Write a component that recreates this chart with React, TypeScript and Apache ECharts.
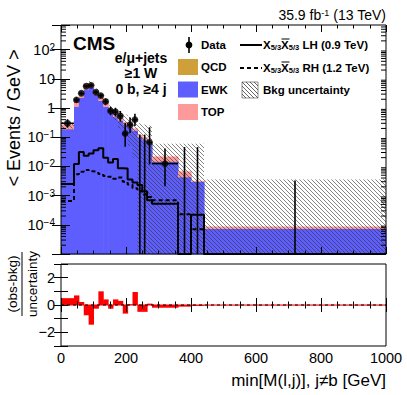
import React, { useEffect, useRef } from "react";
import * as echarts from "echarts";

// ---------- data (events / GeV) ----------
const binEdges = [0, 40, 55, 70, 85, 100, 115, 130, 145, 160, 175, 190, 205, 220, 235, 250, 265, 280, 360, 400, 440, 1000];
const ewkValues = [0.194, 1.12, 2.31, 4.35, 5.11, 2.88, 1.8, 1.12, 0.70, 0.50, 0.385, 0.28, 0.221, 0.17, 0.102, 0.085, 0.057, 0.015, 0.0044, 0.00304, 0.000074];
const qcdValues = [0.001, 0.006, 0.01, 0.02, 0.02, 0.012, 0.008, 0.006, 0.003, 0.002, 0.002, 0.008, 0.001, 0.001, 0.0005, 0.0004, 0.0002, 0.0001, 0.00002, 0.00001, 0.0000003];
const topValues = [0.075, 0.674, 0.98, 2.03, 2.17, 1.108, 0.692, 0.474, 0.197, 0.118, 0.083, 0.042, 0.038, 0.029, 0.0175, 0.0146, 0.0078, 0.0069, 0.00238, 0.00015, 0.000014];
const dataValues = [0.30, 1.9, 3.2, 5.6, 6.0, 3.47, 2.67, 1.67, 0.8, 0.733, 0.533, 0.133, 0.267, 0.4, 0, 0, 0.0667, 0.0125, 0, 0, 0];
const dataErrLow = [0.085, 0.35, 0.46, 0.61, 0.63, 0.48, 0.42, 0.33, 0.23, 0.22, 0.19, 0.086, 0.127, 0.159, 0, 0, 0.055, 0.0104, 0, 0, 0];
const dataErrHigh = [0.115, 0.42, 0.53, 0.68, 0.70, 0.55, 0.49, 0.40, 0.31, 0.29, 0.26, 0.176, 0.211, 0.239, 0.123, 0.123, 0.153, 0.0288, 0.046, 0.046, 0.0033];
const bkgUncLow = [0.2, 1.5, 2.8, 5.5, 6.3, 3.3, 2.0, 1.2, 0.6, 0.38, 0.2, 0.1, 0.05, 0.02, 1e-5, 1e-5, 1e-5, 1e-5, 1e-5, 1e-5, 1e-5];
const bkgUncHigh = [0.34, 2.1, 3.8, 7.3, 8.3, 4.7, 3.0, 2.0, 1.25, 0.95, 0.8, 0.6, 0.5, 0.4, 0.3, 0.27, 0.25, 0.06, 0.06, 0.06, 0.0036];
const signalLH = [0.0025, 0.012, 0.031, 0.023, 0.028, 0.036, 0.042, 0.020, 0.0135, 0.018, 0.0087, 0.0085, 0.0036, 0.0028, 0.0023, 0.0014, 0.0007, 0.00053, 0, 0.00022, 0];
const signalRH = [0.00065, 0.0054, 0.0066, 0.0076, 0.0068, 0.0065, 0.0055, 0.0047, 0.0044, 0.0038, 0.0042, 0.0030, 0.0024, 0.0018, 0.0014, 0.0011, 0.0009, 0.0007, 0.00023, 0.00007, 0];
const pullValues = [0.5, 0.7, 0.22, -0.75, -1.44, -0.27, 1.0, 0.41, -0.27, 0.41, 0.3, -0.63, 0.05, 0.95, -0.5, -0.5, 0.1, -0.2, -0.12, -0.06, -0.02];
const xTickLabels = ["0", "200", "400", "600", "800", "1000"];
const yLogMin = 1e-5;
const yLogMax = 700;

const FONT = "'Liberation Sans', Arial, Helvetica, sans-serif";
const C_EWK = "#5e5eff";
const C_TOP = "#ff9a9a";
const C_QCD = "#cf9f3a";

const cl = (v: number) => Math.min(Math.max(v, yLogMin), yLogMax);

function hatchLines(x0: number, y0: number, x1: number, y1: number, s: number, color: string, w: number) {
  const out: any[] = [];
  const cStart = Math.ceil((x0 - y1) / s) * s;
  for (let c = cStart; c <= x1 - y0; c += s) {
    const xa = Math.max(x0, y0 + c);
    const xb = Math.min(x1, y1 + c);
    if (xb > xa) {
      out.push({ type: "line", shape: { x1: xa, y1: xa - c, x2: xb, y2: xb - c }, style: { stroke: color, lineWidth: w } });
    }
  }
  return out;
}

function stepPoints(vals: number[]) {
  const pts: number[][] = [];
  vals.forEach((v, i) => {
    const y = v > 0 ? v : yLogMin;
    pts.push([binEdges[i], y], [binEdges[i + 1], y]);
  });
  return pts;
}

const txt = (x: number, y: number, text: string, size: number, bold: boolean, align: string, extra: any = {}) => ({
  type: "text",
  x,
  y,
  z: 100,
  ...extra,
  style: {
    text,
    fontSize: size,
    fontWeight: bold ? "bold" : "normal",
    fontFamily: FONT,
    fill: "#000",
    textAlign: align,
    textVerticalAlign: "middle",
    align,
    verticalAlign: "middle",
    ...(extra.style || {}),
  },
});

export default function App() {
  const ref = useRef<HTMLDivElement>(null);
  useEffect(() => {
    if (!ref.current) return;
    const chart = echarts.init(ref.current, null, { renderer: "svg" });

    const bins = binEdges.slice(0, -1).map((lo, i) => ({ lo, hi: binEdges[i + 1] }));
    const stackData = bins.map((b, i) => [b.lo, b.hi, ewkValues[i], qcdValues[i], topValues[i]]);
    const bandData = bins.map((b, i) => [b.lo, b.hi, bkgUncLow[i], bkgUncHigh[i]]);
    const errData = bins.map((b, i) => [b.lo, b.hi, dataValues[i], dataErrLow[i], dataErrHigh[i]]);
    const pointData = bins
      .map((b, i) => [(b.lo + b.hi) / 2, dataValues[i]])
      .filter((p) => p[1] > 0);
    const pullData = bins.map((b, i) => [b.lo, b.hi, pullValues[i]]);
    const minorTickVals: number[][] = [];
    for (let e = -5; e <= 2; e++) {
      for (let m = 2; m <= 9; m++) {
        const v = m * Math.pow(10, e);
        if (v < yLogMax) minorTickVals.push([0, v]);
      }
    }

    const axisCommonX = (gridIndex: number, position: string, showLabel: boolean) => ({
      gridIndex,
      type: "value",
      min: 0,
      max: 1000,
      interval: 200,
      position,
      z: 10,
      axisLine: { show: false },
      axisTick: { show: true, inside: true, length: 7, lineStyle: { color: "#000", width: 1 } },
      minorTick: { show: true, splitNumber: 4, length: 3.5, lineStyle: { color: "#000", width: 1 } },
      splitLine: { show: false },
      axisLabel: {
        show: showLabel,
        fontSize: 14.5,
        fontFamily: FONT,
        color: "#000",
        margin: 4,
        formatter: (v: number) => xTickLabels[Math.round(v / 200)] ?? "",
      },
    });

    const logAxis = (position: string, showLabel: boolean) => ({
      gridIndex: 0,
      type: "log",
      logBase: 10,
      min: yLogMin,
      max: yLogMax,
      splitNumber: 10,
      position,
      z: 10,
      axisLine: { show: false },
      axisTick: { show: true, inside: true, length: 9, lineStyle: { color: "#000", width: 1 } },
      splitLine: { show: false },
      axisLabel: {
        show: showLabel,
        fontSize: 14.5,
        fontFamily: FONT,
        color: "#000",
        margin: 6,
        formatter: (v: number) => {
          const e = Math.round(Math.log10(v));
          const p = Math.pow(10, e);
          if (Math.abs(v - p) / p > 1e-6) return "";
          if (e < -4 || e > 2) return "";
          if (e === 0) return "1";
          if (e === 1) return "10";
          return "10{sup|" + (e < 0 ? "\u2212" + -e : String(e)) + "}";
        },
        rich: {
          sup: { fontSize: 10, fontFamily: FONT, color: "#000", verticalAlign: "top", lineHeight: 10 },
        },
      },
    });

    const ratioY = (position: string, showLabel: boolean) => ({
      gridIndex: 1,
      type: "value",
      min: -3,
      max: 3,
      interval: 1,
      position,
      z: 10,
      axisLine: { show: false },
      axisTick: { show: true, inside: true, length: 7, lineStyle: { color: "#000", width: 1 } },
      splitLine: { show: false },
      axisLabel: {
        show: showLabel,
        fontSize: 14.5,
        fontFamily: FONT,
        color: "#000",
        margin: 6,
        formatter: (v: number) => (Math.abs(v) < 3 && Math.round(v) % 2 === 0 ? (v < 0 ? "\u2212" + -v : String(v)) : ""),
      },
    });

    const legendHatch = hatchLines(242, 82, 258, 98, 4, "#222", 0.7);
    const subRich = { sub: { fontSize: 7.5, fontWeight: "bold", fontFamily: FONT, fill: "#000", verticalAlign: "bottom", lineHeight: 8 } };

    const graphic: any[] = [
      { type: "rect", z: 100, shape: { x: 61, y: 25, width: 325, height: 229 }, style: { fill: "none", stroke: "#000", lineWidth: 1 } },
      { type: "rect", z: 100, shape: { x: 61, y: 264, width: 325, height: 82 }, style: { fill: "none", stroke: "#000", lineWidth: 1 } },
      txt(386, 15, "35.9 fb{sup|-1} (13 TeV)", 14, false, "right", {
        style: { rich: { sup: { fontSize: 9, fontFamily: FONT, fill: "#000", verticalAlign: "top", lineHeight: 9 } } },
      }),
      txt(73, 43, "CMS", 19, true, "left"),
      txt(141, 58, "e/\u03bc+jets", 14, true, "center"),
      txt(141, 73, "\u22651 W", 14, true, "center"),
      txt(141, 89, "0 b, \u22654 j", 14, true, "center"),
      // legend: data
      { type: "line", z: 100, shape: { x1: 189, y1: 37, x2: 189, y2: 53 }, style: { stroke: "#000", lineWidth: 1.6 } },
      { type: "circle", z: 100, shape: { cx: 189, cy: 45, r: 3.4 }, style: { fill: "#000" } },
      txt(201, 45, "Data", 11.5, true, "left"),
      { type: "rect", z: 100, shape: { x: 178, y: 59, width: 20, height: 16 }, style: { fill: C_QCD } },
      txt(201, 67, "QCD", 11.5, true, "left"),
      { type: "rect", z: 100, shape: { x: 178, y: 81.5, width: 20, height: 16 }, style: { fill: C_EWK } },
      txt(201, 90, "EWK", 11.5, true, "left"),
      { type: "rect", z: 100, shape: { x: 178, y: 104, width: 20, height: 16 }, style: { fill: C_TOP } },
      txt(201, 112, "TOP", 11.5, true, "left"),
      // legend: signals
      { type: "line", z: 100, shape: { x1: 240, y1: 45, x2: 262, y2: 45 }, style: { stroke: "#000", lineWidth: 2 } },
      txt(263, 45, "X{sub|5/3}X{sub|5/3} LH (0.9 TeV)", 11.5, true, "left", { style: { rich: subRich } }),
      { type: "line", z: 100, shape: { x1: 281.5, y1: 39, x2: 289.5, y2: 39 }, style: { stroke: "#000", lineWidth: 1 } },
      { type: "line", z: 100, shape: { x1: 240, y1: 68, x2: 262, y2: 68 }, style: { stroke: "#000", lineWidth: 2, lineDash: [4, 3] } },
      txt(263, 68, "X{sub|5/3}X{sub|5/3} RH (1.2 TeV)", 11.5, true, "left", { style: { rich: subRich } }),
      { type: "line", z: 100, shape: { x1: 281.5, y1: 62, x2: 289.5, y2: 62 }, style: { stroke: "#000", lineWidth: 1 } },
      { type: "group", z: 100, children: legendHatch },
      { type: "rect", z: 100, shape: { x: 242, y: 82, width: 16, height: 16 }, style: { fill: "none", stroke: "#444", lineWidth: 0.6 } },
      txt(263, 90, "Bkg uncertainty", 11.5, true, "left"),
      // axis titles
      txt(14, 118, "< Events / GeV >", 18, false, "center", { rotation: Math.PI / 2 }),
      txt(12, 284, "(obs-bkg)", 13.5, false, "center", { rotation: Math.PI / 2 }),
      { type: "line", z: 100, shape: { x1: 22, y1: 252, x2: 22, y2: 316 }, style: { stroke: "#000", lineWidth: 1 } },
      txt(32, 284, "uncertainty", 13.5, false, "center", { rotation: Math.PI / 2 }),
      txt(386, 380, "min[M(l,j)], j\u2260b [GeV]", 17, false, "right"),
    ];

    const option: any = {
      animation: false,
      backgroundColor: "#fff",
      textStyle: { fontFamily: FONT, color: "#000" },
      grid: [
        { left: 61, top: 25, width: 325, height: 229, show: false, containLabel: false, outerBoundsMode: "none" },
        { left: 61, top: 264, width: 325, height: 82, show: false, containLabel: false, outerBoundsMode: "none" },
      ],
      xAxis: [axisCommonX(0, "bottom", false), axisCommonX(0, "top", false), axisCommonX(1, "bottom", true), axisCommonX(1, "top", false)],
      yAxis: [logAxis("left", true), logAxis("right", false), ratioY("left", true), ratioY("right", false)],
      series: [
        {
          type: "custom", name: "stack", xAxisIndex: 0, yAxisIndex: 0, silent: true,
          data: stackData, encode: { x: [0, 1], y: [2, 3, 4] },
          renderItem: (params: any, api: any) => {
            const lo = api.value(0), hi = api.value(1);
            const e = api.value(2), q = api.value(3), t = api.value(4);
            const layers: [number, number, string][] = [
              [yLogMin, e, C_EWK],
              [e, e + q, C_QCD],
              [e + q, e + q + t, C_TOP],
            ];
            const children = layers.map(([a, b, c]) => {
              const p0 = api.coord([lo, cl(b)]);
              const p1 = api.coord([hi, cl(a)]);
              return { type: "rect", shape: { x: p0[0], y: p0[1], width: p1[0] - p0[0] + 0.6, height: p1[1] - p0[1] + 0.4 }, style: { fill: c } };
            });
            return { type: "group", children };
          },
        },
        {
          type: "custom", name: "band", xAxisIndex: 0, yAxisIndex: 0, silent: true,
          data: bandData, encode: { x: [0, 1], y: [2, 3] },
          renderItem: (params: any, api: any) => {
            const lo = api.value(0), hi = api.value(1), bl = api.value(2), bh = api.value(3);
            const pA = api.coord([lo, cl(bh)]);
            const pB = api.coord([hi, cl(bl)]);
            return { type: "group", children: hatchLines(pA[0], pA[1], pB[0], pB[1], 4, "#333", 0.6) };
          },
        },
        {
          type: "line", name: "LH", xAxisIndex: 0, yAxisIndex: 0, silent: true,
          data: stepPoints(signalLH), showSymbol: false, symbol: "none",
          lineStyle: { color: "#000", width: 2 },
        },
        {
          type: "line", name: "RH", xAxisIndex: 0, yAxisIndex: 0, silent: true,
          data: stepPoints(signalRH), showSymbol: false, symbol: "none",
          lineStyle: { color: "#000", width: 2, type: [4, 3] },
        },
        {
          type: "custom", name: "errors", xAxisIndex: 0, yAxisIndex: 0, silent: true,
          data: errData, encode: { x: [0, 1], y: [2] },
          renderItem: (params: any, api: any) => {
            const lo = api.value(0), hi = api.value(1), v = api.value(2), el = api.value(3), eh = api.value(4);
            const xc = (lo + hi) / 2;
            const pt = api.coord([xc, cl(v + eh)]);
            const pb = api.coord([xc, v > 0 ? cl(v - el) : yLogMin]);
            const children: any[] = [
              { type: "line", shape: { x1: pt[0], y1: pt[1], x2: pb[0], y2: pb[1] }, style: { stroke: "#000", lineWidth: 1.6 } },
            ];
            if (v > 0) {
              const a = api.coord([lo, v]);
              const b = api.coord([hi, v]);
              children.push({ type: "line", shape: { x1: a[0], y1: a[1], x2: b[0], y2: b[1] }, style: { stroke: "#000", lineWidth: 1.6 } });
            }
            return { type: "group", children };
          },
        },
        {
          type: "scatter", name: "Data", xAxisIndex: 0, yAxisIndex: 0, silent: true,
          data: pointData, symbol: "circle", symbolSize: 6.8, itemStyle: { color: "#000" },
        },
        {
          type: "custom", name: "minorTicks", xAxisIndex: 0, yAxisIndex: 0, silent: true, z: 10,
          data: minorTickVals, encode: { x: 0, y: 1 },
          renderItem: (params: any, api: any) => {
            const v = api.value(1);
            const l = api.coord([0, v]);
            const r = api.coord([1000, v]);
            return {
              type: "group",
              children: [
                { type: "line", shape: { x1: l[0], y1: l[1], x2: l[0] + 5, y2: l[1] }, style: { stroke: "#000", lineWidth: 1 } },
                { type: "line", shape: { x1: r[0] - 5, y1: r[1], x2: r[0], y2: r[1] }, style: { stroke: "#000", lineWidth: 1 } },
              ],
            };
          },
        },
        {
          type: "custom", name: "pull", xAxisIndex: 2, yAxisIndex: 2, silent: true,
          data: pullData, encode: { x: [0, 1], y: [2] },
          renderItem: (params: any, api: any) => {
            const lo = api.value(0), hi = api.value(1), p = api.value(2);
            const a = api.coord([lo, Math.max(p, 0)]);
            const b = api.coord([hi, Math.min(p, 0)]);
            return { type: "rect", shape: { x: a[0], y: a[1], width: b[0] - a[0] + 0.5, height: b[1] - a[1] }, style: { fill: "#ff0000" } };
          },
        },
        {
          type: "line", name: "zero", xAxisIndex: 2, yAxisIndex: 2, silent: true,
          data: [[0, 0], [1000, 0]], showSymbol: false, symbol: "none",
          lineStyle: { color: "#ff0000", width: 1 },
        },
        {
          type: "line", name: "zeroDash", xAxisIndex: 2, yAxisIndex: 2, silent: true,
          data: [[0, 0], [1000, 0]], showSymbol: false, symbol: "none",
          lineStyle: { color: "#000", width: 1, type: [3, 3] },
        },
      ],
      graphic,
    };
    chart.setOption(option);
    return () => chart.dispose();
  }, []);
  return <div ref={ref} style={{ position: "absolute", left: 0, top: 0, width: 407, height: 395 }} />;
}
